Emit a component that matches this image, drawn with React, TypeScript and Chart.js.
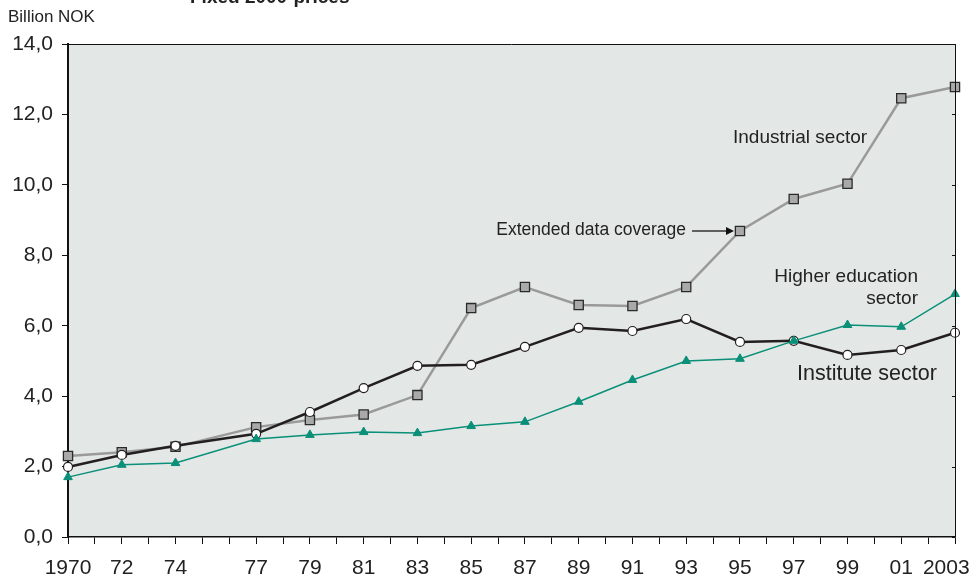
import React, { useEffect, useRef } from "react";
import { Chart, registerables } from "chart.js";

Chart.register(...registerables);

const years = [1970, 1972, 1974, 1977, 1979, 1981, 1983, 1985, 1987, 1989, 1991, 1993, 1995, 1997, 1999, 2001, 2003];
const xTickLabels = ["1970", "72", "74", "77", "79", "81", "83", "85", "87", "89", "91", "93", "95", "97", "99", "01", "2003"];
const industrial = [2.3, 2.41, 2.56, 3.12, 3.32, 3.48, 4.03, 6.5, 7.1, 6.59, 6.56, 7.1, 8.69, 9.6, 10.03, 12.46, 12.78];
const institute = [1.99, 2.33, 2.59, 2.93, 3.55, 4.23, 4.86, 4.89, 5.4, 5.94, 5.85, 6.19, 5.54, 5.57, 5.17, 5.31, 5.8];
const higherEd = [1.7, 2.05, 2.1, 2.78, 2.9, 2.98, 2.95, 3.15, 3.27, 3.84, 4.46, 5.0, 5.06, 5.57, 6.02, 5.97, 6.9];
const yTicks = [0, 2, 4, 6, 8, 10, 12, 14];

const FONT = "'Liberation Sans', Arial, Helvetica, sans-serif";

const overlay = {
  id: "overlay",
  beforeDraw(chart: any) {
    const { ctx, chartArea: a } = chart;
    ctx.save();
    ctx.fillStyle = "#e3e8e6";
    ctx.fillRect(a.left, a.top, a.right - a.left, a.bottom - a.top);
    ctx.restore();
  },
  afterDraw(chart: any) {
    const { ctx, chartArea: a, scales } = chart;
    const xs = scales.x;
    const ys = scales.y;
    ctx.save();
    // top & right frame
    ctx.strokeStyle = "#111";
    ctx.lineWidth = 1;
    ctx.beginPath();
    ctx.moveTo(a.left, a.top + 0.5);
    ctx.lineTo(a.right, a.top + 0.5);
    ctx.moveTo(a.right + 0.5, a.top);
    ctx.lineTo(a.right + 0.5, a.bottom);
    ctx.stroke();
    // small inward ticks on right frame
    ctx.beginPath();
    for (const v of yTicks) {
      const y = Math.round(ys.getPixelForValue(v)) + 0.5;
      ctx.moveTo(a.right - 3, y);
      ctx.lineTo(a.right, y);
    }
    ctx.stroke();

    ctx.fillStyle = "#222";
    ctx.textBaseline = "middle";
    // unit
    ctx.font = `17px ${FONT}`;
    ctx.textAlign = "left";
    ctx.fillText("Billion NOK", 8, 17);
    // title (cut off at top)
    ctx.font = `bold 19px ${FONT}`;
    ctx.textBaseline = "alphabetic";
    ctx.fillText("Fixed 2000-prices", 190, 3);
    ctx.textBaseline = "middle";

    ctx.font = `19px ${FONT}`;
    ctx.fillText("Industrial sector", 733, 138);
    ctx.textAlign = "right";
    ctx.fillText("Higher education", 918, 277);
    ctx.fillText("sector", 918, 299);
    ctx.textAlign = "left";
    ctx.font = `21.5px ${FONT}`;
    ctx.fillText("Institute sector", 797, 374);

    ctx.font = `17.5px ${FONT}`;
    ctx.textAlign = "right";
    ctx.fillText("Extended data coverage", 686, 230);

    // arrow to 1995 point
    const i95 = years.indexOf(1995);
    const tipX = xs.getPixelForValue(1995) - 6;
    const tipY = ys.getPixelForValue(industrial[i95]);
    ctx.strokeStyle = "#333";
    ctx.lineWidth = 1.5;
    ctx.beginPath();
    ctx.moveTo(692, tipY);
    ctx.lineTo(tipX - 6, tipY);
    ctx.stroke();
    ctx.fillStyle = "#111";
    ctx.beginPath();
    ctx.moveTo(tipX, tipY);
    ctx.lineTo(tipX - 8, tipY - 4);
    ctx.lineTo(tipX - 8, tipY + 4);
    ctx.closePath();
    ctx.fill();
    ctx.restore();
  },
};

export default function App() {
  const ref = useRef<HTMLCanvasElement | null>(null);
  useEffect(() => {
    if (!ref.current) return;
    const chart = new Chart(ref.current, {
      type: "line",
      data: {
        datasets: [
          {
            label: "Higher education sector",
            data: years.map((x, i) => ({ x, y: higherEd[i] })),
            borderColor: "#0a8f78",
            backgroundColor: "#0a8f78",
            borderWidth: 1.5,
            pointStyle: "triangle",
            pointRadius: 5,
            pointBackgroundColor: "#0a8f78",
            pointBorderColor: "#0a8f78",
            pointBorderWidth: 1,
            tension: 0,
            clip: false,
            order: 0,
          },
          {
            label: "Institute sector",
            data: years.map((x, i) => ({ x, y: institute[i] })),
            borderColor: "#231f20",
            backgroundColor: "#ffffff",
            borderWidth: 2.5,
            pointStyle: "circle",
            pointRadius: 4.5,
            pointBackgroundColor: "#ffffff",
            pointBorderColor: "#231f20",
            pointBorderWidth: 1.2,
            tension: 0,
            clip: false,
            order: 1,
          },
          {
            label: "Industrial sector",
            data: years.map((x, i) => ({ x, y: industrial[i] })),
            borderColor: "#9a9a9a",
            backgroundColor: "#a9a9a9",
            borderWidth: 2.5,
            pointStyle: "rect",
            pointRadius: 6.5,
            pointBackgroundColor: "#a9a9a9",
            pointBorderColor: "#2a2a2a",
            pointBorderWidth: 1.3,
            tension: 0,
            clip: false,
            order: 2,
          },
        ],
      },
      options: {
        responsive: false,
        animation: false,
        layout: { padding: { top: 44, right: 19, left: 0, bottom: 0 } },
        plugins: { legend: { display: false }, tooltip: { enabled: false }, title: { display: false } },
        scales: {
          x: {
            type: "linear",
            min: 1970,
            max: 2003,
            afterFit(scale: any) {
              scale.height = 41;
              scale.paddingLeft = 0;
              scale.paddingRight = 0;
            },
            border: { display: true, color: "#111", width: 1.5 },
            grid: { display: true, drawOnChartArea: false, drawTicks: true, tickLength: 7, color: "#111", lineWidth: 1 },
            ticks: {
              stepSize: 1,
              autoSkip: false,
              maxRotation: 0,
              padding: 12,
              color: "#222",
              font: { family: FONT, size: 21 },
              callback: (v: any) => {
                const i = years.indexOf(Number(v));
                if (i < 0) return "";
                // last label sits slightly left of its tick (to stay inside the frame)
                return i === years.length - 1 ? xTickLabels[i] + "\u00a0\u00a0\u00a0" : xTickLabels[i];
              },
            },
          },
          y: {
            min: 0,
            max: 14,
            afterFit(scale: any) {
              scale.width = 68;
            },
            border: { display: true, color: "#111", width: 2 },
            grid: { display: true, drawOnChartArea: false, drawTicks: true, tickLength: 6, color: "#111", lineWidth: 1 },
            ticks: {
              stepSize: 2,
              padding: 9,
              color: "#222",
              font: { family: FONT, size: 21 },
              callback: (v: any) => Number(v).toFixed(1).replace(".", ","),
            },
          },
        },
      },
      plugins: [overlay],
    });
    return () => chart.destroy();
  }, []);
  return (
    <div style={{ position: "fixed", left: 0, top: 0, width: 974, height: 578, background: "#fff" }}>
      <canvas ref={ref} width={974} height={578} style={{ width: 974, height: 578, display: "block" }} />
    </div>
  );
}
